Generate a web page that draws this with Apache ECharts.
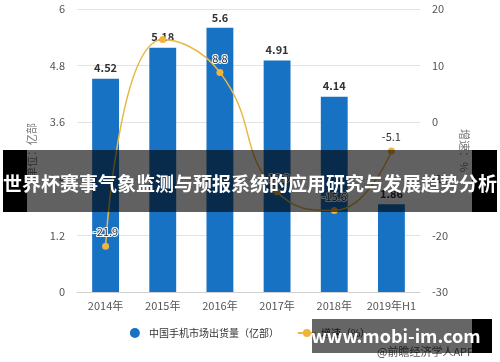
<!DOCTYPE html>
<html>
<head>
<meta charset="utf-8">
<script src="https://cdn.jsdelivr.net/npm/echarts@6/dist/echarts.min.js"></script>
<style>
html,body{margin:0;padding:0;background:#fff;}
#main{width:500px;height:362px;}
</style>
</head>
<body>
<div id="main"></div>
<script>
var categories = ['2014年', '2015年', '2016年', '2017年', '2018年', '2019年H1'];
var shipments = [4.52, 5.18, 5.6, 4.91, 4.14, 1.86];
var growth = [-21.9, 14.6, 8.8, -12.3, -15.6, -5.1];
var growthLabelShown = [true, false, true, true, true, true];
var leftTicks = {min: 0, max: 6, interval: 1.2};
var rightTicks = {min: -30, max: 20, interval: 10};
var seriesNames = ['中国手机市场出货量（亿部）', '增速（%）'];
var bannerText = '世界杯赛事气象监测与预报系统的应用研究与发展趋势分析';
var siteText = 'www.mobi-im.com';
var sourceText = '@前瞻经济学人APP';

var chart = echarts.init(document.getElementById('main'), null, {renderer: 'canvas'});
var font = '"Noto Sans CJK SC", "Noto Sans", sans-serif';
var growthData = growth.map(function (v, i) {
  return {value: v, label: {show: growthLabelShown[i]}};
});
chart.setOption({
  animation: false,
  textStyle: {fontFamily: font},
  grid: {left: 77, right: 80, top: 9, bottom: 70},
  legend: {
    bottom: 19,
    left: 'center',
    itemGap: 18,
    itemWidth: 18,
    itemHeight: 10,
    textStyle: {fontSize: 10, color: '#333', fontFamily: font},
    data: [{name: seriesNames[0], icon: 'circle'}, {name: seriesNames[1]}]
  },
  xAxis: {
    type: 'category',
    data: categories,
    axisLine: {lineStyle: {color: '#d0d0d0'}},
    axisTick: {show: false},
    axisLabel: {color: '#555', fontSize: 11, margin: 8, interval: 0}
  },
  yAxis: [{
    type: 'value',
    min: leftTicks.min, max: leftTicks.max, interval: leftTicks.interval,
    name: '单位：亿部',
    nameLocation: 'middle',
    nameGap: 40,
    nameRotate: 90,
    nameTextStyle: {color: '#777', fontSize: 11},
    axisLine: {show: false},
    axisTick: {show: false},
    axisLabel: {color: '#555', fontSize: 11, margin: 12},
    splitLine: {lineStyle: {color: '#e3e3e3'}}
  }, {
    type: 'value',
    min: rightTicks.min, max: rightTicks.max, interval: rightTicks.interval,
    name: '增速：%',
    nameLocation: 'middle',
    nameGap: 36,
    nameRotate: -90,
    nameTextStyle: {color: '#777', fontSize: 11},
    axisLine: {show: false},
    axisTick: {show: false},
    axisLabel: {color: '#555', fontSize: 11, margin: 12},
    splitLine: {show: false}
  }],
  series: [{
    name: seriesNames[0],
    type: 'bar',
    data: shipments,
    barWidth: '47%',
    itemStyle: {color: '#1872c4'},
    label: {show: true, position: 'top', color: '#333', fontWeight: 'bold', fontSize: 11}
  }, {
    name: seriesNames[1],
    type: 'line',
    yAxisIndex: 1,
    data: growthData,
    smooth: true,
    symbol: 'circle',
    symbolSize: 7,
    lineStyle: {color: '#e9b746', width: 1.5},
    itemStyle: {color: '#f2b33a'},
    label: {show: true, position: 'top', color: '#333', fontSize: 11,
            textBorderColor: '#fff', textBorderWidth: 2}
  }],
  graphic: [
    {type: 'text', left: 377, top: 346, z: 50,
     style: {text: sourceText, fill: '#555', font: '11px ' + font}},
    {type: 'rect', shape: {x: 3, y: 150, width: 494, height: 62}, z: 100,
     style: {fill: 'rgba(0,0,0,0.62)'}},
    {type: 'rect', shape: {x: 3, y: 150, width: 24, height: 62}, z: 100,
     style: {fill: '#000'}},
    {type: 'rect', shape: {x: 472, y: 150, width: 25, height: 62}, z: 100,
     style: {fill: '#000'}},
    {type: 'text', x: 250, y: 184, z: 101,
     style: {text: bannerText, fill: '#fff', font: 'bold 19px ' + font,
             textAlign: 'center', textVerticalAlign: 'middle'}},
    {type: 'rect', shape: {x: 312, y: 319, width: 160, height: 34}, z: 100,
     style: {fill: 'rgba(0,0,0,0.6)'}},
    {type: 'rect', shape: {x: 472, y: 319, width: 20, height: 34}, z: 100,
     style: {fill: '#000'}},
    {type: 'text', x: 396, y: 336, z: 101,
     style: {text: siteText, fill: '#fff', font: 'bold 18px ' + font,
             textAlign: 'center', textVerticalAlign: 'middle'}}
  ]
});
</script>
</body>
</html>
